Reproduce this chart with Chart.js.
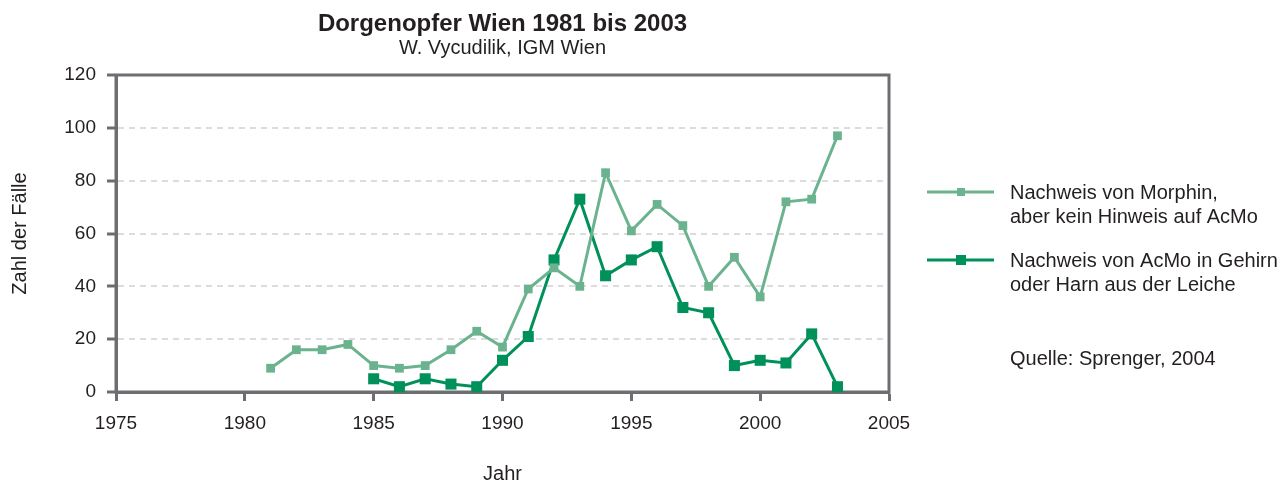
<!DOCTYPE html>
<html>
<head>
<meta charset="utf-8">
<title>Dorgenopfer Wien 1981 bis 2003</title>
<script src="https://cdn.jsdelivr.net/npm/chart.js@4"></script>
<style>
  html, body { margin: 0; padding: 0; background: #fff; }
  #wrap { width: 1280px; height: 484px; position: relative; }
</style>
</head>
<body>
<div id="wrap"><canvas id="myChart" width="1280" height="484"></canvas></div>
<script>
// data
var yearsMorphin = [1981,1982,1983,1984,1985,1986,1987,1988,1989,1990,1991,1992,1993,1994,1995,1996,1997,1998,1999,2000,2001,2002,2003];
var valuesMorphin = [9,16,16,18,10,9,10,16,23,17,39,47,40,83,61,71,63,40,51,36,72,73,97];
var yearsAcMo = [1985,1986,1987,1988,1989,1990,1991,1992,1993,1994,1995,1996,1997,1998,1999,2000,2001,2002,2003];
var valuesAcMo = [5,2,5,3,2,12,21,50,73,44,50,55,32,30,10,12,11,22,2];
var xTicks = [1975,1980,1985,1990,1995,2000,2005];
var yTicks = [0,20,40,60,80,100,120];
var legendLabels = [
  ['Nachweis von Morphin,', 'aber kein Hinweis auf AcMo'],
  ['Nachweis von AcMo in Gehirn', 'oder Harn aus der Leiche']
];
var sourceText = 'Quelle: Sprenger, 2004';

var axisGrey = '#6d6e71';
var textCol = '#231f20';
var lightGreen = '#6ab38e';
var darkGreen = '#00905a';
var fontFam = '"Liberation Sans", Arial, sans-serif';

function toPoints(xs, ys){
    return xs.map(function(x, i){ return {x: x, y: ys[i]}; });
}

// frame round the plot area, custom legend and source note
var extras = {
    id: 'extras',
    beforeDatasetsDraw: function(chart){
        var a = chart.chartArea, ctx = chart.ctx;
        ctx.save();
        ctx.strokeStyle = axisGrey;
        ctx.lineWidth = 3;
        ctx.strokeRect(a.left, a.top, a.right - a.left, a.bottom - a.top);
        ctx.restore();
    },
    afterDraw: function(chart){
        var ctx = chart.ctx;
        ctx.save();
        ctx.font = '20px ' + fontFam;
        ctx.textBaseline = 'middle';
        var rows = [192, 260];
        chart.data.datasets.forEach(function(ds, i){
            var y = rows[i];
            ctx.strokeStyle = ds.borderColor;
            ctx.lineWidth = 3;
            ctx.beginPath();
            ctx.moveTo(927, y);
            ctx.lineTo(994, y);
            ctx.stroke();
            var s = i === 0 ? 8 : 10;
            ctx.fillStyle = ds.borderColor;
            ctx.fillRect(961 - s / 2, y - s / 2, s, s);
            ctx.fillStyle = textCol;
            ctx.fillText(legendLabels[i][0], 1010, y + 1);
            ctx.fillText(legendLabels[i][1], 1010, y + 25);
        });
        ctx.fillText(sourceText, 1010, 359);
        ctx.restore();
    }
};

var ctx = document.getElementById('myChart').getContext('2d');
var myChart = new Chart(ctx, {
    type: 'line',
    data: {
        datasets: [{
            label: legendLabels[0].join(' '),
            data: toPoints(yearsMorphin, valuesMorphin),
            borderColor: lightGreen,
            backgroundColor: lightGreen,
            borderWidth: 3,
            pointStyle: 'rect',
            pointRadius: 6.2,
            pointBorderWidth: 0,
            pointBackgroundColor: lightGreen,
            clip: false
        }, {
            label: legendLabels[1].join(' '),
            data: toPoints(yearsAcMo, valuesAcMo),
            borderColor: darkGreen,
            backgroundColor: darkGreen,
            borderWidth: 3,
            pointStyle: 'rect',
            pointRadius: 7.8,
            pointBorderWidth: 0,
            pointBackgroundColor: darkGreen,
            clip: false
        }]
    },
    options: {
        responsive: false,
        animation: false,
        events: [],
        layout: { padding: { left: 0, right: 391, top: 0, bottom: 0 } },
        plugins: {
            legend: { display: false },
            tooltip: { enabled: false },
            title: {
                display: true,
                text: 'Dorgenopfer Wien 1981 bis 2003',
                fullSize: false,
                color: textCol,
                font: { family: fontFam, size: 24, weight: 'bold', lineHeight: 1.1 },
                padding: { top: 11, bottom: 0 }
            },
            subtitle: {
                display: true,
                text: 'W. Vycudilik, IGM Wien',
                fullSize: false,
                color: textCol,
                font: { family: fontFam, size: 20, lineHeight: 1 },
                padding: { top: 1, bottom: 16.6 }
            }
        },
        scales: {
            x: {
                type: 'linear',
                min: 1975,
                max: 2005,
                afterBuildTicks: function(scale){
                    scale.ticks = xTicks.map(function(v){ return {value: v}; });
                },
                afterFit: function(scale){ scale.height = 92; },
                border: { display: true, color: axisGrey, width: 3 },
                grid: {
                    drawOnChartArea: false,
                    drawTicks: true,
                    tickLength: 9,
                    tickColor: axisGrey,
                    tickWidth: 3
                },
                ticks: {
                    color: textCol,
                    padding: 11,
                    maxRotation: 0,
                    font: { family: fontFam, size: 19 },
                    callback: function(v){ return String(v); }
                },
                title: {
                    display: true,
                    text: 'Jahr',
                    color: textCol,
                    font: { family: fontFam, size: 20, lineHeight: 1 },
                    padding: { top: 0, bottom: 0 }
                }
            },
            y: {
                min: 0,
                max: 120,
                afterBuildTicks: function(scale){
                    scale.ticks = yTicks.map(function(v){ return {value: v}; });
                },
                afterFit: function(scale){ scale.width = 116; },
                border: { display: true, color: axisGrey, width: 3, dash: [6, 5] },
                grid: {
                    color: function(c){
                        return (c.tick && (c.tick.value === 0 || c.tick.value === 120)) ? 'rgba(0,0,0,0)' : '#dcdcdc';
                    },
                    lineWidth: 2,
                    drawTicks: true,
                    tickLength: 9,
                    tickColor: axisGrey,
                    tickWidth: 3,
                    tickBorderDash: []
                },
                ticks: {
                    color: textCol,
                    padding: 11,
                    font: { family: fontFam, size: 19 }
                },
                title: {
                    display: true,
                    text: 'Zahl der Fälle',
                    color: textCol,
                    font: { family: fontFam, size: 20, lineHeight: 1 },
                    padding: { top: 10, bottom: 0 }
                }
            }
        }
    },
    plugins: [extras]
});
</script>
</body>
</html>
